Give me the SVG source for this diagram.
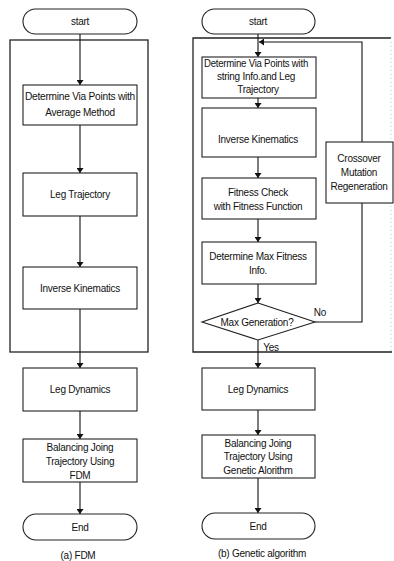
<svg xmlns="http://www.w3.org/2000/svg" width="394" height="561" viewBox="0 0 394 561">
<defs>
<marker id="ah" viewBox="0 0 10 10" refX="10" refY="5" markerWidth="5" markerHeight="7" markerUnits="userSpaceOnUse" orient="auto" preserveAspectRatio="none">
<path d="M0,0 L10,5 L0,10 Z" fill="#111"/>
</marker>
<style>
.box{fill:#fff;stroke:#222;stroke-width:1.1}
.grp{fill:none;stroke:#222;stroke-width:1.3}
.ln{fill:none;stroke:#111;stroke-width:1.1}
.ar{fill:none;stroke:#111;stroke-width:1.1;marker-end:url(#ah)}
text{font-family:"Liberation Sans",Arial,sans-serif;font-size:10px;fill:#111;text-anchor:middle;letter-spacing:-0.25px}
.cap{font-size:10px}
</style>
</defs>
<rect width="394" height="561" fill="#fff"/>

<g id="groups">
<rect id="group-a" class="grp" x="10" y="40" width="138" height="312"/>
<path id="group-b" class="grp" d="M391,38 H193 V352 H392"/>
<path d="M391,38 V352" fill="none" stroke="#bbb" stroke-width="0.8" stroke-dasharray="1 3"/>
</g>

<g id="connectors">
<line class="ar" x1="80" y1="34" x2="80" y2="85"/>
<line class="ar" x1="80" y1="125" x2="80" y2="173"/>
<line class="ar" x1="80" y1="216" x2="80" y2="267"/>
<line class="ar" x1="80" y1="309" x2="80" y2="368"/>
<line class="ar" x1="80" y1="411" x2="80" y2="439"/>
<line class="ar" x1="80" y1="482" x2="80" y2="514"/>

<line class="ar" x1="258" y1="34" x2="258" y2="57"/>
<line class="ar" x1="258" y1="98" x2="258" y2="108"/>
<line class="ar" x1="258" y1="157" x2="258" y2="178"/>
<line class="ar" x1="258" y1="219" x2="258" y2="242"/>
<line class="ar" x1="258" y1="284" x2="258" y2="303"/>
<line class="ar" x1="258" y1="340" x2="258" y2="368"/>
<line class="ar" x1="258" y1="410" x2="258" y2="435"/>
<line class="ar" x1="258" y1="478" x2="258" y2="513"/>
<polyline class="ln" points="315,322 362,322 362,203"/>
<polyline class="ar" points="362,142 362,42 259,42"/>
</g>

<g id="a-start"><rect class="box" x="23" y="9" width="114" height="25" rx="12.5"/><text x="80" y="25">start</text></g>
<g id="a-via"><rect class="box" x="23" y="85" width="114" height="40"/><text x="80" y="100" textLength="110" lengthAdjust="spacingAndGlyphs">Determine Via Points with</text><text x="80" y="116">Average Method</text></g>
<g id="a-legtraj"><rect class="box" x="23" y="173" width="114" height="43"/><text x="80" y="198">Leg Trajectory</text></g>
<g id="a-ik"><rect class="box" x="23" y="267" width="114" height="42"/><text x="80" y="292">Inverse Kinematics</text></g>
<g id="a-legdyn"><rect class="box" x="23" y="368" width="114" height="43"/><text x="80" y="393">Leg Dynamics</text></g>
<g id="a-balance"><rect class="box" x="23" y="439" width="114" height="43"/><text x="80" y="451">Balancing Joing</text><text x="80" y="465">Trajectory Using</text><text x="80" y="479">FDM</text></g>
<g id="a-end"><rect class="box" x="23" y="514" width="114" height="26" rx="13"/><text x="80" y="531">End</text></g>
<text class="cap" x="78" y="559">(a) FDM</text>

<g id="b-start"><rect class="box" x="202" y="9" width="113" height="25" rx="12.5"/><text x="258" y="25">start</text></g>
<g id="b-via"><rect class="box" x="202" y="57" width="114" height="41"/><text x="256" y="67" textLength="104" lengthAdjust="spacingAndGlyphs">Determine Via Points with</text><text x="256" y="80">string Info.and Leg</text><text x="258" y="93">Trajectory</text></g>
<g id="b-ik"><rect class="box" x="202" y="108" width="114" height="49"/><text x="258" y="143">Inverse Kinematics</text></g>
<g id="b-fit"><rect class="box" x="202" y="178" width="114" height="41"/><text x="258" y="196">Fitness Check</text><text x="258" y="210">with Fitness Function</text></g>
<g id="b-max"><rect class="box" x="202" y="242" width="114" height="42"/><text x="258" y="260">Determine Max Fitness</text><text x="258" y="274">Info.</text></g>
<g id="b-gen"><polygon class="box" points="258,303 315,322 258,340 202,322"/><text x="257" y="326">Max Generation?</text></g>
<g id="b-cross"><rect class="box" x="326" y="142" width="67" height="61"/><text x="359" y="162">Crossover</text><text x="359" y="176">Mutation</text><text x="359" y="190">Regeneration</text></g>
<text x="320" y="316">No</text>
<text x="271" y="351">Yes</text>
<g id="b-legdyn"><rect class="box" x="202" y="368" width="113" height="42"/><text x="258" y="393">Leg Dynamics</text></g>
<g id="b-balance"><rect class="box" x="202" y="435" width="113" height="43"/><text x="258" y="447">Balancing Joing</text><text x="258" y="460">Trajectory Using</text><text x="258" y="474">Genetic Alorithm</text></g>
<g id="b-end"><rect class="box" x="202" y="513" width="113" height="26" rx="13"/><text x="258" y="530">End</text></g>
<text class="cap" x="262" y="557">(b) Genetic algorithm</text>
</svg>
